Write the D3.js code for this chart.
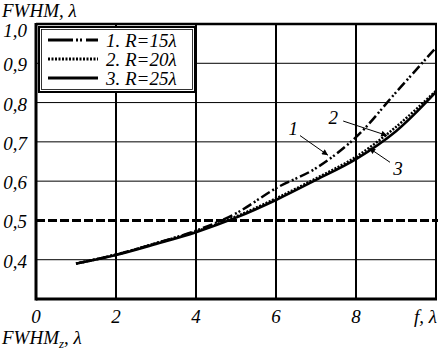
<!DOCTYPE html>
<html>
<head>
<meta charset="utf-8">
<script src="https://cdn.jsdelivr.net/npm/d3@7"></script>
<style>
  body { margin: 0; background: #fff; }
  svg { display: block; }
  text { font-family: "Liberation Serif", "DejaVu Serif", serif; font-style: italic; fill: #000; }
</style>
</head>
<body>
<svg width="439" height="355"></svg>
<script>
// data
const fValues = [1, 2, 3, 4, 5, 6, 7, 8, 9, 10];
const r15 = [0.39, 0.413, 0.442, 0.474, 0.518, 0.582, 0.633, 0.712, 0.826, 0.94];
const r20 = [0.39, 0.413, 0.442, 0.472, 0.51, 0.556, 0.607, 0.662, 0.738, 0.83];
const r25 = [0.39, 0.412, 0.44, 0.47, 0.507, 0.552, 0.603, 0.656, 0.727, 0.827];
const thresholdLevel = 0.5;
const xTicks = [0, 2, 4, 6, 8];
const xGrid = [2, 4, 6, 8];
const yTicks = [0.4, 0.5, 0.6, 0.7, 0.8, 0.9, 1.0];
const yGrid = [0.4, 0.6, 0.7, 0.8, 0.9];
const legendLabels = ['1. R=15λ', '2. R=20λ', '3. R=25λ'];
// callouts: label, label position, arrow start, arrow tip (in data units)
const callouts = [
  {label: '1', at: [6.43, 0.735], from: [6.6, 0.716], to: [7.3, 0.666]},
  {label: '2', at: [7.43, 0.763], from: [7.68, 0.753], to: [8.78, 0.716]},
  {label: '3', at: [9.05, 0.633], from: [8.85, 0.648], to: [8.33, 0.684]}
];

const fontSize = '19px';
const svg = d3.select('svg');
const x = d3.scaleLinear().domain([0, 10]).range([36, 436]);
const y = d3.scaleLinear().domain([0.3, 1.0]).range([299, 24]);

svg.append('defs').append('marker')
    .attr('id', 'arrow')
    .attr('viewBox', '0 0 10 10')
    .attr('refX', 10).attr('refY', 5)
    .attr('markerWidth', 9).attr('markerHeight', 6)
    .attr('markerUnits', 'userSpaceOnUse')
    .attr('orient', 'auto')
  .append('path')
    .attr('d', 'M0,0L10,5L0,10Z')
    .attr('fill', '#000');

svg.append('clipPath').attr('id', 'plot')
  .append('rect')
    .attr('x', x(0)).attr('y', y(1.0))
    .attr('width', x(10) - x(0)).attr('height', y(0.3) - y(1.0));

// grid
svg.append('g').selectAll('line')
  .data(yGrid)
  .enter().append('line')
    .attr('x1', x(0)).attr('x2', x(10))
    .attr('y1', d => y(d)).attr('y2', d => y(d))
    .attr('stroke', '#000').attr('stroke-width', 1);

svg.append('g').selectAll('line')
  .data(xGrid)
  .enter().append('line')
    .attr('x1', d => x(d)).attr('x2', d => x(d))
    .attr('y1', y(1.0)).attr('y2', y(0.3))
    .attr('stroke', '#000').attr('stroke-width', 2);

// frame
svg.append('line').attr('x1', x(0)).attr('x2', x(10) + 1).attr('y1', y(0.3)).attr('y2', y(0.3))
  .attr('stroke', '#000').attr('stroke-width', 3);
svg.append('line').attr('x1', x(0)).attr('x2', x(0)).attr('y1', y(1.0) - 1).attr('y2', y(0.3) + 1.5)
  .attr('stroke', '#000').attr('stroke-width', 3);
svg.append('line').attr('x1', x(0)).attr('x2', x(10) + 1).attr('y1', y(1.0)).attr('y2', y(1.0))
  .attr('stroke', '#000').attr('stroke-width', 2.5);
svg.append('line').attr('x1', x(10)).attr('x2', x(10)).attr('y1', y(1.0)).attr('y2', y(0.3))
  .attr('stroke', '#000').attr('stroke-width', 2);

// threshold
svg.append('line')
  .attr('x1', x(0)).attr('x2', x(10) + 2)
  .attr('y1', y(thresholdLevel)).attr('y2', y(thresholdLevel))
  .attr('stroke', '#000').attr('stroke-width', 3)
  .attr('stroke-dasharray', '9,3');

// curves
const line = d3.line()
  .x(d => x(d[0]))
  .y(d => y(d[1]))
  .curve(d3.curveCatmullRom.alpha(0.5));

const seriesList = [
  {values: r15, dash: '10,3,2,2,2,3', width: 2.5},
  {values: r20, dash: '2,1.5', width: 2.5},
  {values: r25, dash: null, width: 2.5}
];

const curves = svg.append('g').attr('clip-path', 'url(#plot)');
curves.selectAll('path')
  .data(seriesList)
  .enter().append('path')
    .attr('d', s => line(fValues.map((f, i) => [f, s.values[i]])))
    .attr('fill', 'none')
    .attr('stroke', '#000')
    .attr('stroke-width', s => s.width)
    .attr('stroke-dasharray', s => s.dash);

// callouts
const call = svg.append('g').selectAll('g')
  .data(callouts)
  .enter().append('g');
call.append('line')
  .attr('x1', d => x(d.from[0])).attr('y1', d => y(d.from[1]))
  .attr('x2', d => x(d.to[0])).attr('y2', d => y(d.to[1]))
  .attr('stroke', '#000').attr('stroke-width', 1)
  .attr('marker-end', 'url(#arrow)');
call.append('text')
  .attr('x', d => x(d.at[0])).attr('y', d => y(d.at[1]))
  .attr('dy', '0.35em')
  .attr('text-anchor', 'middle')
  .style('font-size', fontSize)
  .text(d => d.label);

// y tick labels
const fmt = d => d3.format('.1f')(d).replace('.', ',');
svg.append('g').selectAll('text')
  .data(yTicks)
  .enter().append('text')
    .attr('x', 27)
    .attr('y', d => y(d))
    .attr('dy', d => d === 1.0 ? '0.7em' : '0.42em')
    .attr('text-anchor', 'end')
    .style('font-size', fontSize)
    .text(fmt);

// x tick labels
svg.append('g').selectAll('text')
  .data(xTicks)
  .enter().append('text')
    .attr('x', d => x(d))
    .attr('y', 323)
    .attr('text-anchor', 'middle')
    .style('font-size', fontSize)
    .text(d => d);

svg.append('text')
  .attr('x', 437).attr('y', 323)
  .attr('text-anchor', 'end')
  .style('font-size', fontSize)
  .text('f, λ');

svg.append('text')
  .attr('x', 2).attr('y', 17)
  .style('font-size', fontSize)
  .text('FWHM, λ');

const bottomTitle = svg.append('text')
  .attr('x', 2).attr('y', 344)
  .style('font-size', fontSize);
bottomTitle.append('tspan').text('FWHM');
bottomTitle.append('tspan').attr('dy', 4).style('font-size', '13px').text('z');
bottomTitle.append('tspan').attr('dy', -4).text(', λ');

// legend
const legend = svg.append('g');
legend.append('rect')
  .attr('x', 39).attr('y', 27).attr('width', 156).attr('height', 65)
  .attr('fill', '#fff').attr('stroke', '#000').attr('stroke-width', 2);
legend.append('rect')
  .attr('x', 41.5).attr('y', 29.5).attr('width', 151).attr('height', 60)
  .attr('fill', 'none').attr('stroke', '#000').attr('stroke-width', 0.8);

const rows = legend.selectAll('g.row')
  .data(seriesList)
  .enter().append('g')
    .attr('class', 'row')
    .attr('transform', (d, i) => `translate(0,${40 + i * 19})`);
rows.append('line')
  .attr('x1', 48).attr('x2', 98)
  .attr('stroke', '#000')
  .attr('stroke-width', s => s.width + 0.5)
  .attr('stroke-dasharray', (s, i) => i === 0 ? '25,3,2,2,2,4' : s.dash);
rows.append('text')
  .attr('x', 106)
  .attr('dy', '0.35em')
  .style('font-size', fontSize)
  .text((d, i) => legendLabels[i]);
</script>
</body>
</html>
